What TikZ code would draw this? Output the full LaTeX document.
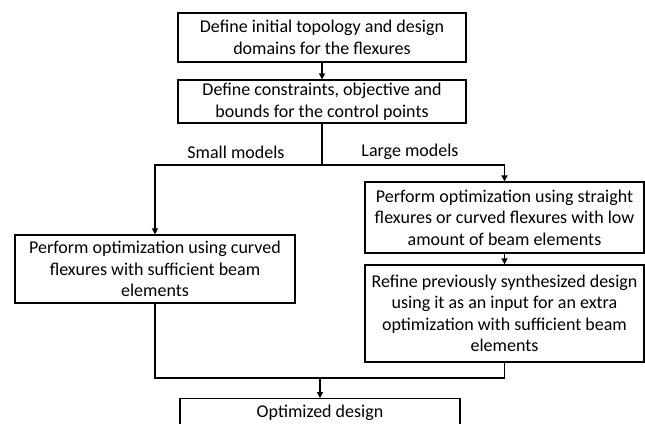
\documentclass[tikz,border=0pt]{standalone}
\usepackage{fontspec}
\setmainfont{Carlito}
\usetikzlibrary{arrows.meta}

\begin{document}
\begin{tikzpicture}[x=1pt,y=-1pt,
    box/.style={draw,line width=1.3pt,align=center,inner sep=0pt,
      font=\fontsize{18}{21.5}\selectfont},
    lbl/.style={font=\fontsize{18}{21.5}\selectfont},
    conn/.style={line width=1.8pt},
    arr/.style={conn,-{Triangle[length=6pt,width=6pt]}}]
    \useasboundingbox (0,0) rectangle (645,423);
    \node[box,minimum width=288pt,minimum height=49pt] (init) at (322,37.5)
      {Define initial topology and design\\domains for the flexures};
    \node[box,minimum width=288pt,minimum height=43pt] (cons) at (322,101.5)
      {Define constraints, objective and\\bounds for the control points};
    \node[box,minimum width=280pt,minimum height=68pt] (small) at (155,269)
      {Perform optimization using curved\\flexures with sufficient beam\\elements};
    \node[box,minimum width=279pt,minimum height=71pt] (large) at (504.5,217.5)
      {Perform optimization using straight\\flexures or curved flexures with low\\amount of beam elements};
    \node[box,minimum width=279pt,minimum height=97pt] (refine) at (504.5,313.5)
      {Refine previously synthesized design\\using it as an input for an extra\\optimization with sufficient beam\\elements};
    \node[box,minimum width=280pt,minimum height=54pt,anchor=north] (opt) at (320,398)
      {Optimized design\\\strut};
    \coordinate (split) at (322,165);
    \coordinate (merge) at (320,378);
    \node[lbl] (smalllbl) at (236,152) {Small models};
    \node[lbl] (largelbl) at (410,152) {Large models};
    \draw[arr] (init) -- (cons);
    \draw[conn] (cons) -- (split);
    \draw[arr] (split) -| (small);
    \draw[arr] (split) -| (large);
    \draw[arr] (large) -- (refine);
    \draw[conn] (small) |- (merge);
    \draw[conn] (refine) |- (merge);
    \draw[arr] (merge) -- (opt);
  \end{tikzpicture}
\end{document}
